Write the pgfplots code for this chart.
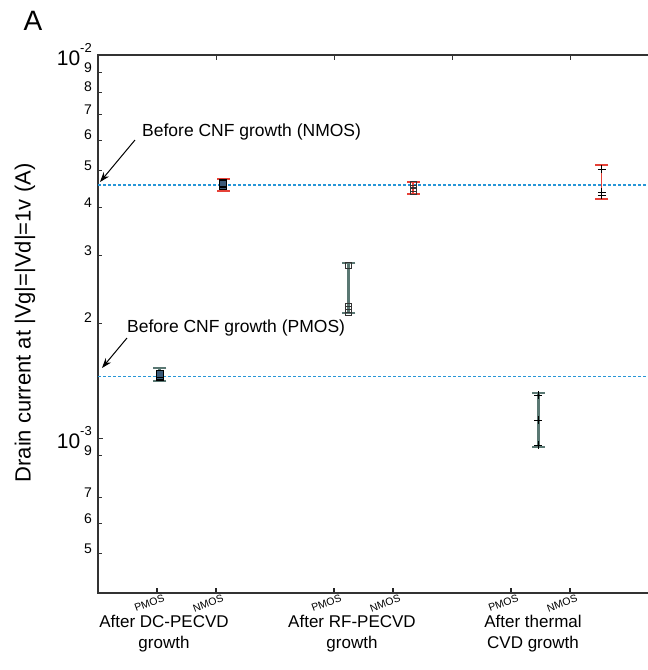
\documentclass[border=0pt]{standalone}
\usepackage{fontspec}
\setmainfont{Liberation Sans}
\usepackage{pgfplots}
\pgfplotsset{compat=1.18}
\usetikzlibrary{arrows.meta}
\definecolor{refblue}{RGB}{40,150,215}
\definecolor{nred}{RGB}{230,65,55}
\definecolor{pgrey}{RGB}{90,120,115}
\definecolor{mfill}{RGB}{60,90,120}

% MATLAB-like decade label: 10 with a raised exponent, set lower than the tick
\newcommand{\decade}[1]{\raisebox{-15.5pt}[0pt][0pt]{\fontsize{21}{21}\selectfont 10\raisebox{13pt}{\fontsize{13}{13}\selectfont #1}}\hspace{7pt}}

\begin{document}
\begin{tikzpicture}
\useasboundingbox (0pt,0pt) rectangle (648pt,-670pt);
\clip (0pt,0pt) rectangle (648pt,-670pt);
% main axis, data
\begin{axis}[
  at={(98pt,-593pt)}, anchor=south west,
  scale only axis, width=590pt, height=538pt,
  xmin=0, xmax=10,
  ymode=log, ymin=3.95e-4, ymax=1e-2,
  axis line style={line width=1.2pt, black!80},
  tick align=inside,
  xtick={1,2,4,5,7,8},
  xticklabels={PMOS,NMOS,PMOS,NMOS,PMOS,NMOS},
  xtick pos=bottom,
  x tick style={line width=2pt, black!85},
  x tick label style={font=\fontsize{10.5}{10.5}\selectfont, rotate=20, anchor=north east, inner sep=0pt, xshift=5pt, yshift=-3pt},
  major tick length=5pt, minor tick length=4pt,
  ytick={1e-3,1e-2},
  yticklabels={\decade{-3},\decade{-2}},
  ytick pos=left,
  y tick style={line width=0.8pt, black!80},
  y tick label style={font=\fontsize{14}{14}\selectfont, anchor=east, inner sep=0pt, xshift=-6pt, yshift=5pt},
  extra y ticks={5e-4,6e-4,7e-4,9e-4,2e-3,3e-3,4e-3,5e-3,6e-3,7e-3,8e-3,9e-3},
  extra y tick labels={5,6,7,9,2,3,4,5,6,7,8,9},
  extra y tick style={major tick length=4pt},
]
% before CNF growth reference levels
\addplot[refblue, line width=1.5pt, dash pattern=on 3pt off 2pt] coordinates {(0,4.58e-3) (10,4.58e-3)};
\addplot[refblue, line width=1.5pt, dash pattern=on 3pt off 2pt] coordinates {(0,1.452e-3) (10,1.452e-3)};

% error bars (min to max)
\addplot[pgrey, line width=3pt, mark=-, mark size=6.5pt, mark options={line width=2.2pt}] coordinates {(1.05,1.409e-3) (1.05,1.524e-3)};
\addplot[nred, line width=1.2pt, mark=-, mark size=6.5pt, mark options={line width=1.8pt}] coordinates {(2.12,4.414e-3) (2.12,4.745e-3)};
\addplot[pgrey, line width=3pt, mark=-, mark size=6.5pt, mark options={line width=2.2pt}] coordinates {(4.25,2.121e-3) (4.25,2.863e-3)};
\addplot[nred, line width=1.2pt, mark=-, mark size=6.5pt, mark options={line width=1.8pt}] coordinates {(5.34,4.336e-3) (5.34,4.661e-3)};
\addplot[pgrey, line width=3pt, mark=-, mark size=6.5pt, mark options={line width=2.2pt}] coordinates {(7.46,9.473e-4) (7.46,1.311e-3)};
\addplot[nred, line width=1.2pt, mark=-, mark size=6.5pt, mark options={line width=1.8pt}] coordinates {(8.54,4.207e-3) (8.54,5.162e-3)};

% individual devices
\addplot[only marks, mark=square*, mark size=3.5pt, mark options={fill=mfill, draw=black, line width=1.2pt}] coordinates {(1.05,1.45e-3) (1.05,1.47e-3)};
\addplot[only marks, mark=square*, mark size=3.5pt, mark options={fill=mfill, draw=black, line width=1.2pt}] coordinates {(2.12,4.55e-3) (2.12,4.62e-3)};
\addplot[only marks, mark=square, mark size=3pt, mark options={draw=black!80, line width=0.8pt}] coordinates {(4.25,2.828e-3) (4.25,2.212e-3) (4.25,2.172e-3) (4.25,2.133e-3)};
\addplot[only marks, mark=square, mark size=3pt, mark options={draw=black!80, line width=0.8pt}] coordinates {(5.34,4.6e-3) (5.34,4.5e-3) (5.34,4.42e-3)};
\addplot[only marks, mark=+, mark size=4pt, mark options={draw=black, line width=0.8pt}] coordinates {(7.46,1.296e-3) (7.46,1.114e-3) (7.46,9.6e-4)};
\addplot[only marks, mark=+, mark size=4pt, mark options={draw=black, line width=0.8pt}] coordinates {(8.54,5.04e-3) (8.54,4.388e-3) (8.54,4.31e-3)};
\end{axis}
% top axis ticks
\begin{axis}[
  at={(98pt,-593pt)}, anchor=south west,
  scale only axis, width=590pt, height=538pt,
  xmin=0, xmax=10, ymin=0, ymax=1,
  axis x line*=top, axis y line=none,
  axis line style={draw=none},
  xtick={2,4,6,8}, xticklabels={},
  tick align=inside, major tick length=5pt,
  x tick style={line width=0.8pt, black!80},
]
\end{axis}

\node[font=\fontsize{28}{28}\selectfont] at (33pt,-21pt) {A};
\node[rotate=90, font=\fontsize{22}{22}\selectfont] at (25pt,-323pt) {Drain current at |Vg|=|Vd|=1v (A)};

\node[anchor=west, inner sep=0pt, font=\fontsize{17.5}{17.5}\selectfont] at (142pt,-132pt) {Before CNF growth (NMOS)};
\node[anchor=west, inner sep=0pt, font=\fontsize{17.5}{17.5}\selectfont] at (127pt,-328pt) {Before CNF growth (PMOS)};
\draw[-{Stealth[length=10pt,width=7pt]}, line width=1pt] (135pt,-140pt) -- (100pt,-182pt);
\draw[-{Stealth[length=10pt,width=7pt]}, line width=1pt] (127pt,-338pt) -- (102pt,-368pt);

\node[align=center, anchor=north, inner sep=0pt, font=\fontsize{17}{21}\selectfont] at (164pt,-615pt) {After DC-PECVD\\growth};
\node[align=center, anchor=north, inner sep=0pt, font=\fontsize{17}{21}\selectfont] at (352pt,-615pt) {After RF-PECVD\\growth};
\node[align=center, anchor=north, inner sep=0pt, font=\fontsize{17}{21}\selectfont] at (533pt,-615pt) {After thermal\\CVD growth};
\end{tikzpicture}
\end{document}
